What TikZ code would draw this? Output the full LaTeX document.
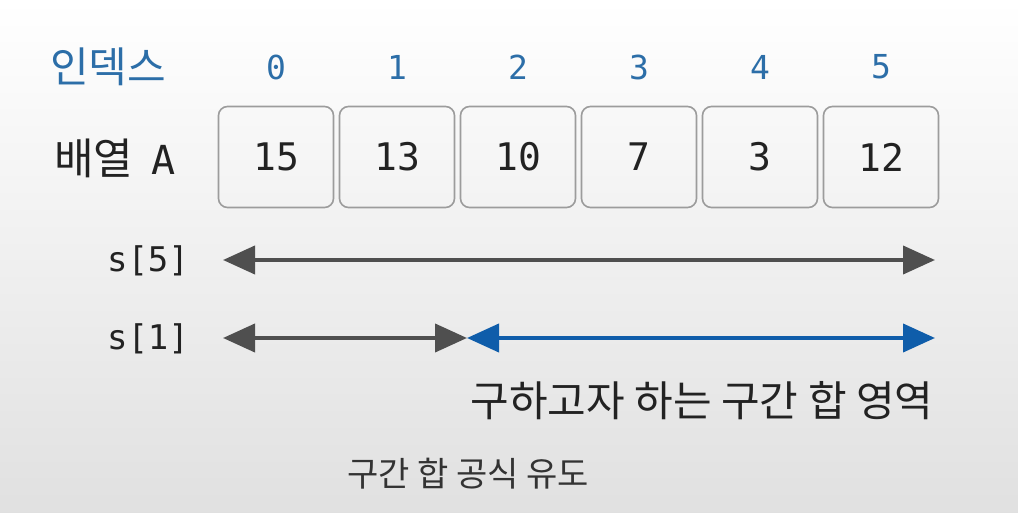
\documentclass[tikz,border=0pt]{standalone}
\usepackage{fontspec}
\usetikzlibrary{arrows.meta}
\newfontfamily\kr{Noto Sans CJK KR}
\newfontfamily\mono{DejaVu Sans Mono}
\definecolor{idxblue}{HTML}{2C6EA8}
\definecolor{arrgray}{HTML}{4F4F4F}
\definecolor{arrblue}{HTML}{0F5DAA}
\definecolor{boxgray}{HTML}{9C9C9C}
\definecolor{txt}{HTML}{222222}
\tikzset{
  idx/.style={text=idxblue, font=\mono\fontsize{33}{33}\selectfont, inner sep=0pt},
  cell/.style={draw=boxgray, line width=1.6pt, rounded corners=9pt, minimum width=115pt, minimum height=101pt, inner sep=0pt, text=txt, font=\mono\fontsize{38}{38}\selectfont},
  lbl/.style={text=txt, inner sep=0pt},
  rng/.style={line width=4pt, draw=arrgray, {Triangle[length=32pt,width=28pt]}-{Triangle[length=32pt,width=28pt]}},
  rngblue/.style={rng, draw=arrblue}
}
\begin{document}
\begin{tikzpicture}[x=1pt,y=-1pt]
\shade[top color=white, bottom color=black!12] (0,0) rectangle (1018,513);
\useasboundingbox (0,0) rectangle (1018,513);
\node[text=idxblue, inner sep=0pt, font=\kr\fontsize{42}{42}\selectfont] (idxlabel) at (108,67) {인덱스};
\foreach \i in {0,...,5} {
  \node[idx] (i\i) at (276+121*\i,67) {\i};
}
\node[lbl, font=\kr\fontsize{43}{43}\selectfont] (arrlabel) at (115,158) {배열\hspace{18pt}{\mono\fontsize{40}{40}\selectfont A}};
\node[cell] (b0) at (276,157) {15};
\node[cell] (b1) at (397,157) {13};
\node[cell] (b2) at (518,157) {10};
\node[cell] (b3) at (639,157) {7};
\node[cell] (b4) at (760,157) {3};
\node[cell] (b5) at (881,157) {12};
\node[lbl, font=\mono\fontsize{34}{34}\selectfont] (s5) at (148,261) {s[5]};
\node[lbl, font=\mono\fontsize{34}{34}\selectfont] (s1) at (148,339) {s[1]};
\coordinate (a5l) at (223,260);
\coordinate (a5r) at (935,260);
\coordinate (a1l) at (223,338);
\coordinate (a1m) at (467,338);
\coordinate (a1r) at (935,338);
\draw[rng] (a5l) -- (a5r);
\draw[rng] (a1l) -- (a1m);
\draw[rngblue] (a1m) -- (a1r);
\node[lbl, font=\kr\fontsize{42}{42}\selectfont] (region) at (702,401) {구하고자 하는 구간 합 영역};
\node[text=black!80, inner sep=0pt, font=\kr\fontsize{34}{34}\selectfont] (caption) at (468,474) {구간 합 공식 유도};
\end{tikzpicture}
\end{document}
